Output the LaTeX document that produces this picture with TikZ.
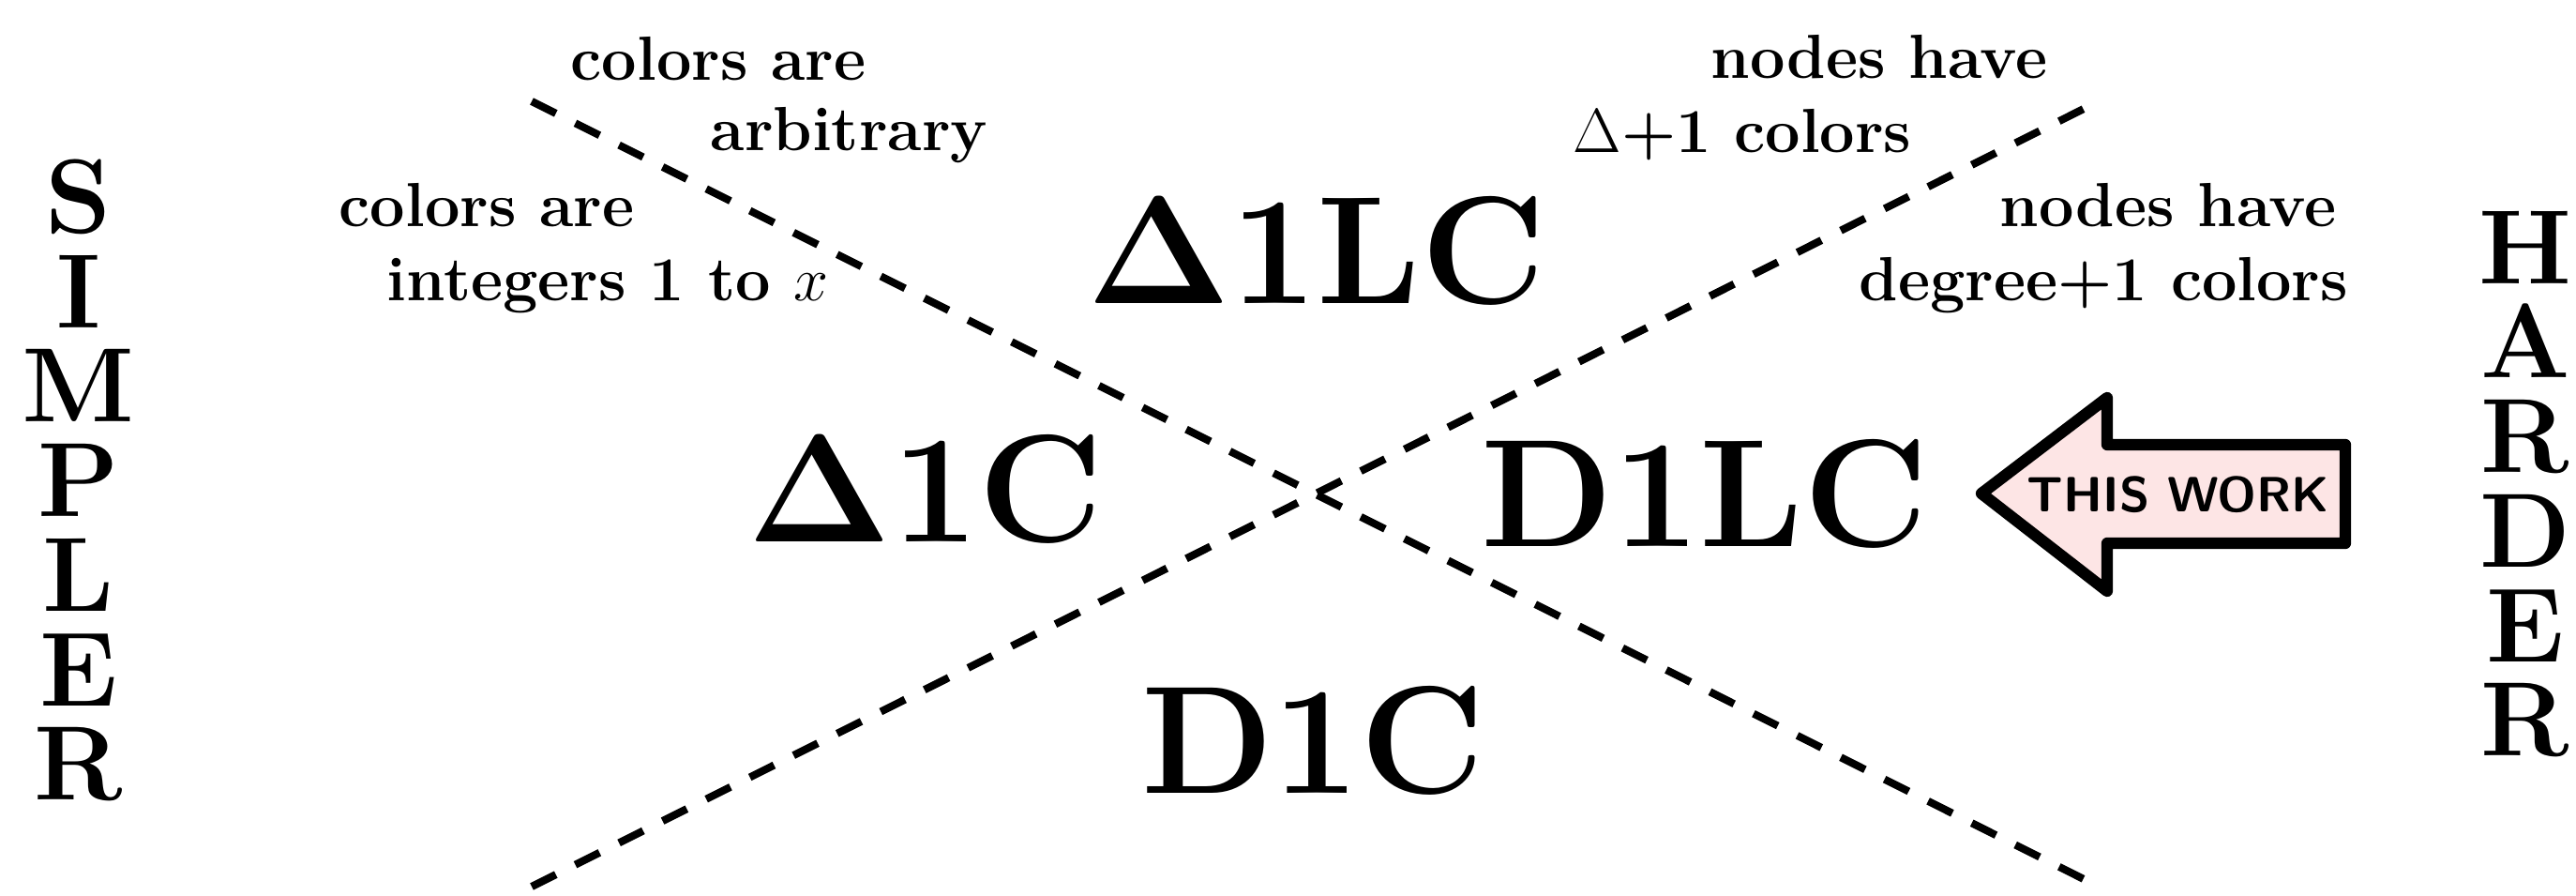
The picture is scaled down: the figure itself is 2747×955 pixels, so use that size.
\RequirePackage{fix-cm}
\documentclass[tikz,border=0pt]{standalone}
\usepackage{amsmath}
\definecolor{arrowfill}{RGB}{253,229,229}
\begin{document}
\begin{tikzpicture}[x=0.01cm,y=-0.01cm,
  small/.style={inner sep=0pt,font=\fontsize{18.9pt}{22pt}\selectfont\bfseries,anchor=base west},
  big/.style={inner sep=0pt,font=\fontsize{46.5pt}{52pt}\selectfont\bfseries,anchor=base},
  side/.style={inner sep=0pt,align=center,font=\fontsize{32pt}{28.65pt}\selectfont\bfseries,anchor=base},
  divider/.style={line width=2.3pt,dash pattern=on 8.2pt off 6.6pt},
  workarrow/.style={draw=black,fill=arrowfill,line width=3.5pt,line join=round}]
\useasboundingbox (0,0) rectangle (2747,955);
% dividers
\coordinate (a1) at (567,108);
\coordinate (a2) at (2228,940);
\coordinate (b1) at (567,945);
\coordinate (b2) at (2228,113);
\draw[divider] (a1) -- (a2);
\draw[divider] (b1) -- (b2);
% small labels
\node[small] (t1) at (608,86) {colors are};
\node[small] (t2) at (757,161) {arbitrary};
\node[small] (t3) at (361,242) {colors are};
\node[small] (t4) at (412,321) {integers 1 to $x$};
\node[small] (t5) at (1824,84) {nodes have};
\node[small] (t6) at (1677,163) {$\Delta$+1 colors};
\node[small] (t7) at (2132,242) {nodes have};
\node[small] (t8) at (1982,321) {degree+1 colors};
% big labels
\node[big] (dlc) at (1404,324) {$\mathbf{\Delta}$1LC};
\node[big] (dc) at (987,578) {$\mathbf{\Delta}$1C};
\node[big] (Dlc) at (1818,583) {D1LC};
\node[big] (Dc) at (1400,846) {D1C};
% side words
\node[side] (simpler) at (84,853) {S\\I\\M\\P\\L\\E\\R};
\node[side] (harder) at (2693,806) {H\\A\\R\\D\\E\\R};
% arrow
\draw[workarrow] (2113,526) -- (2247,424) -- (2247,474) -- (2501,474) -- (2501,579) -- (2247,579) -- (2247,630) -- cycle;
\node[inner sep=0pt,font=\fontsize{15pt}{18pt}\selectfont\sffamily\bfseries] (tw) at (2323,527) {THIS WORK};
\end{tikzpicture}
\end{document}
